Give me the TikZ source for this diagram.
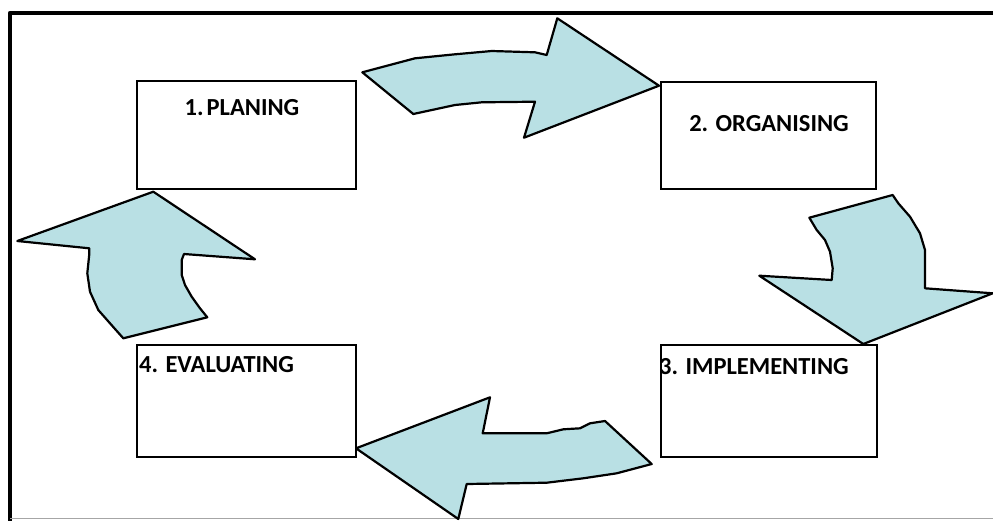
\documentclass[tikz,border=0pt]{standalone}
\usepackage{fontspec}
\setmainfont{Carlito}
\definecolor{arrowfill}{RGB}{185,224,228}
\begin{document}
\begin{tikzpicture}[x=1pt,y=-1pt,
  box/.style={draw=black,line width=2.4pt,fill=white,rectangle,inner sep=0pt,outer sep=0pt},
  lbl/.style={font=\bfseries\fontsize{24.5}{28}\selectfont,inner sep=0pt},
  blockarrow/.style={draw=black,line width=2.2pt,fill=arrowfill,line join=round}]
\useasboundingbox (0,0) rectangle (993,520);
\fill[white] (0,0) rectangle (993,520);
% frame
\draw[line width=4.5pt,line join=round] (10,522) -- (10,13) -- (995,13);
\draw[black!35,line width=1pt] (10,518.8) -- (993,518.8);
% block arrows
\draw[blockarrow] (362.3,72.3) -- (415,58.3) -- (455,54.3) -- (491.7,51) -- (535,52.3) -- (546.7,55) -- (557.3,18.3) -- (659,85.7) -- (524,137.7) -- (535,101.7) -- (481.7,102.3) -- (455,105) -- (413.3,114) -- cycle;
\draw[blockarrow] (809.3,217.7) -- (892.7,195) -- (898.3,203.3) -- (910,216.7) -- (920,233.3) -- (925,250) -- (925,288.3) -- (992.7,293.3) -- (863.3,344) -- (759.3,275.7) -- (831.7,280) -- (832.7,268.3) -- (830,251.7) -- (825,240) -- (816.7,230) -- cycle;
\draw[blockarrow] (356,448.3) -- (490,397.3) -- (482.7,433.3) -- (546.7,433.3) -- (563.3,429.3) -- (580,428.3) -- (590,423.3) -- (605,421) -- (651.7,464) -- (616.7,473.3) -- (583.3,478.3) -- (546.7,482.7) -- (466.7,484) -- (458.3,519) -- cycle;
\draw[blockarrow] (153.3,191.7) -- (255,259.3) -- (184,254) -- (181.7,260) -- (181.7,275) -- (185,285) -- (191.7,296.7) -- (200,308.3) -- (207.3,317.3) -- (123.3,338.3) -- (110,323.3) -- (98.3,310) -- (90,291.7) -- (87.3,273.3) -- (89.3,254) -- (89.3,248.3) -- (17.3,241) -- cycle;
% boxes
\node[box,minimum width=219pt,minimum height=108pt] (b1) at (246.5,135) {};
\node[box,minimum width=215pt,minimum height=107pt] (b2) at (768.5,135.5) {};
\node[box,minimum width=216pt,minimum height=112pt] (b3) at (769,401) {};
\node[box,minimum width=219pt,minimum height=112pt] (b4) at (246.5,401) {};
% labels
\node[lbl,anchor=base] (t1) at (242,115) {1.\hspace{3pt}PLANING};
\node[lbl,anchor=base] (t2) at (769,131.7) {2. ORGANISING};
\node[lbl,anchor=base west] (t3) at (659,374) {3. IMPLEMENTING};
\node[lbl,anchor=base west] (t4) at (139,372) {4. EVALUATING};
\end{tikzpicture}
\end{document}
